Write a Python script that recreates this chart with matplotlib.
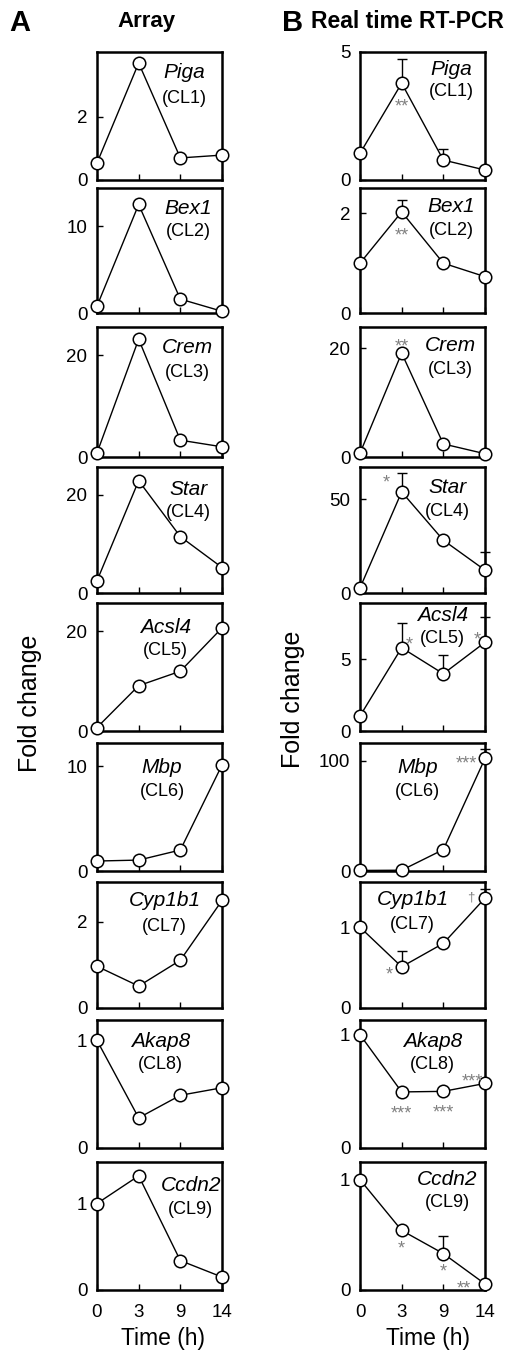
import numpy as np
import matplotlib.pyplot as plt

plt.rcParams['font.family'] = ['Liberation Sans', 'DejaVu Sans']

# ---- data ----
times = ['0', '3', '9', '14']
genes = ['Piga', 'Bex1', 'Crem', 'Star', 'Acsl4', 'Mbp', 'Cyp1b1', 'Akap8', 'Ccdn2']
clusters = ['(CL1)', '(CL2)', '(CL3)', '(CL4)', '(CL5)', '(CL6)', '(CL7)', '(CL8)', '(CL9)']

array_fc = [
    [0.54, 3.71, 0.70, 0.79],
    [0.8, 12.5, 1.6, 0.2],
    [0.8, 23.1, 3.3, 2.0],
    [2.5, 22.9, 11.5, 5.2],
    [0.7, 9.1, 12.0, 20.7],
    [0.95, 1.04, 2.0, 10.1],
    [0.97, 0.51, 1.11, 2.5],
    [1.0, 0.28, 0.49, 0.56],
    [1.0, 1.32, 0.34, 0.15],
]
array_yticks = [[0, 2], [0, 10], [0, 20], [0, 20], [0, 20], [0, 10], [0, 2], [0, 1], [0, 1]]
array_ymax = [4.06, 14.4, 25.5, 25.7, 25.7, 12.2, 2.93, 1.19, 1.48]

rtpcr_fc = [
    [1.04, 3.78, 0.78, 0.39],
    [1.0, 2.03, 1.0, 0.73],
    [0.7, 19.1, 2.4, 0.6],
    [2.7, 54.0, 28.2, 12.2],
    [1.05, 5.82, 4.0, 6.2],
    [0.5, 0.7, 19.4, 102.0],
    [1.0, 0.51, 0.80, 1.36],
    [1.0, 0.495, 0.50, 0.57],
    [1.0, 0.54, 0.33, 0.055],
]
rtpcr_err = [
    [0, 0.95, 0.42, 0],
    [0, 0.24, 0, 0],
    [0, 0, 0, 0],
    [0, 10.0, 0, 9.6],
    [0, 1.74, 1.3, 1.75],
    [0, 0, 0, 9.0],
    [0, 0.19, 0, 0.11],
    [0, 0, 0, 0],
    [0, 0, 0.16, 0],
]
rtpcr_sig = [
    ['', '**', '', ''],
    ['', '**', '', ''],
    ['', '**', '', ''],
    ['', '*', '', ''],
    ['', '*', '', '*'],
    ['', '', '', '***'],
    ['', '*', '', '\u2020'],
    ['', '***', '***', '***'],
    ['', '*', '*', '**'],
]
rtpcr_yticks = [[0, 5], [0, 2], [0, 20], [0, 50], [0, 5], [0, 100], [0, 1], [0, 1], [0, 1]]
rtpcr_ymax = [5.0, 2.51, 23.9, 67.3, 8.95, 116, 1.56, 1.13, 1.16]

# ---- layout (pixels) ----
W, H = 515, 1354
row_top = [52, 188, 327, 467, 603, 743, 882, 1020, 1162]
row_bot = [180, 313, 457, 593, 731, 871, 1008, 1148, 1290]
col_left = [97, 360]
col_w = 125

# gene label positions (axes fraction): x, y for name, y for cluster
array_lab = [(0.70, 0.84, 0.64), (0.73, 0.84, 0.65), (0.72, 0.84, 0.65),
             (0.73, 0.82, 0.64), (0.55, 0.81, 0.63), (0.52, 0.81, 0.62),
             (0.54, 0.85, 0.65), (0.51, 0.83, 0.65), (0.75, 0.82, 0.625)]
rtpcr_lab = [(0.73, 0.86, 0.69), (0.73, 0.85, 0.66), (0.72, 0.86, 0.67),
             (0.70, 0.84, 0.65), (0.66, 0.90, 0.72), (0.46, 0.81, 0.62),
             (0.42, 0.86, 0.66), (0.58, 0.83, 0.65), (0.70, 0.86, 0.68)]

# significance mark offsets in pixels (dx, dy up)
sig_off = {
    (0, 1): (0, -18), (1, 1): (0, -19), (2, 1): (0, 12), (3, 1): (-15, 14),
    (4, 1): (8, 8), (4, 3): (-8, 8), (5, 3): (-19, 0),
    (6, 1): (-12, -3), (6, 3): (-14, 1),
    (7, 1): (0, -17), (7, 2): (0, -16), (7, 3): (-13, 7),
    (8, 1): (0, -13), (8, 2): (0, -13), (8, 3): (-21, 0),
}

fig = plt.figure(figsize=(W / 100, H / 100), dpi=100)


def draw_panel(ax, values, ymax, yticks, gene, cl, lab, last, err=None):
    x = np.arange(len(times))
    if err is not None:
        err = np.array(err)
        m = err > 0
        if m.any():
            c = ax.errorbar(x[m], np.array(values)[m], yerr=[np.zeros(m.sum()), err[m]],
                            fmt='none', ecolor='black', elinewidth=1, capsize=3.5,
                            capthick=1, zorder=2)
            for a in list(c[1]) + list(c[2]):
                a.set_clip_on(False)
    ax.plot(x, values, '-o', color='black', lw=1, ms=9, mfc='white', mec='black',
            mew=1.1, clip_on=False, zorder=3)
    for s in ax.spines.values():
        s.set_linewidth(1.8)
    ax.set_xlim(0, 3)
    ax.set_ylim(0, ymax)
    ax.set_xticks(x)
    ax.set_yticks(yticks)
    ax.set_yticklabels([str(t) for t in yticks])
    ax.tick_params(direction='in', length=4, width=1, labelsize=13.5, top=False, right=False)
    ax.tick_params(axis='y', pad=7)
    ax.tick_params(axis='x', pad=10)
    if last:
        ax.set_xticklabels(times)
    else:
        ax.set_xticklabels([])
    ax.text(lab[0], lab[1], gene, style='italic', fontsize=15, ha='center', va='center',
            transform=ax.transAxes)
    ax.text(lab[0], lab[2], cl, fontsize=13, ha='center', va='center',
            transform=ax.transAxes)


for i in range(len(genes)):
    for j in range(2):
        left = col_left[j]
        ax = fig.add_axes([left / W, 1 - row_bot[i] / H, col_w / W,
                           (row_bot[i] - row_top[i]) / H])
        last = i == len(genes) - 1
        if j == 0:
            draw_panel(ax, array_fc[i], array_ymax[i], array_yticks[i], genes[i],
                       clusters[i], array_lab[i], last)
        else:
            draw_panel(ax, rtpcr_fc[i], rtpcr_ymax[i], rtpcr_yticks[i], genes[i],
                       clusters[i], rtpcr_lab[i], last, err=rtpcr_err[i])
            for k, mark in enumerate(rtpcr_sig[i]):
                if not mark:
                    continue
                dx, dy = sig_off[(i, k)]
                if '*' in mark:
                    corr, fs = -10, 13
                else:
                    corr, fs = -3, 9.5
                ax.annotate(mark, (k, rtpcr_fc[i][k]), xytext=(dx, dy + corr),
                            textcoords='offset pixels', ha='center', va='baseline',
                            fontsize=fs, color='#808080', annotation_clip=False)

# headers and labels
fig.text(9 / W, 1 - 23 / H, 'A', fontsize=21, weight='bold', va='center')
fig.text(147 / W, 1 - 22 / H, 'Array', fontsize=16, weight='bold', ha='center', va='center')
fig.text(282 / W, 1 - 23 / H, 'B', fontsize=21, weight='bold', va='center')
fig.text(311 / W, 1 - 22 / H, 'Real time RT-PCR', fontsize=16.5, weight='bold', va='center')

fig.text(30 / W, 1 - 703 / H, 'Fold change', rotation=90, fontsize=18, ha='center', va='center')
fig.text(293 / W, 1 - 699 / H, 'Fold change', rotation=90, fontsize=18, ha='center', va='center')

fig.text(163 / W, 1 - 1338 / H, 'Time (h)', fontsize=16.5, ha='center', va='center')
fig.text(428 / W, 1 - 1338 / H, 'Time (h)', fontsize=16.5, ha='center', va='center')

fig.savefig('out.png', dpi=100)
